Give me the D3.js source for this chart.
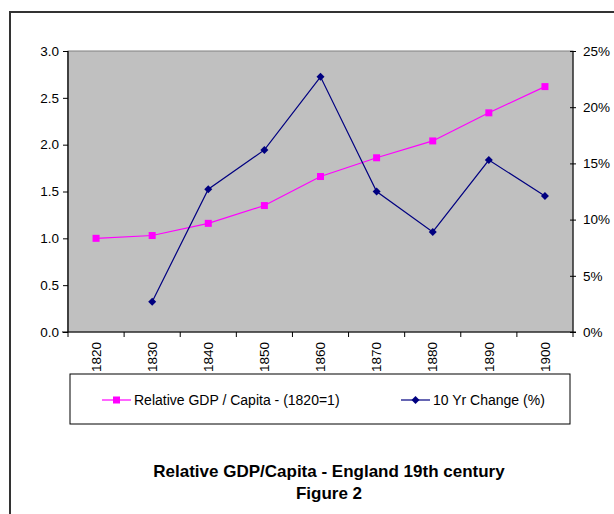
<!DOCTYPE html>
<html><head><meta charset="utf-8">
<script src="https://cdn.jsdelivr.net/npm/d3@7"></script>
<style>
html,body{margin:0;padding:0;background:#fff;}
svg{display:block;font-family:Arial,"Liberation Sans",sans-serif;}
</style></head>
<body><svg id="c" width="614" height="514"></svg>
<script>
const years = ["1820","1830","1840","1850","1860","1870","1880","1890","1900"];
const gdpRel = [1.00, 1.03, 1.16, 1.35, 1.66, 1.86, 2.04, 2.34, 2.62];
const change10 = [null, 2.7, 12.7, 16.2, 22.7, 12.5, 8.9, 15.3, 12.1];
const leftTicks = [0, 0.5, 1.0, 1.5, 2.0, 2.5, 3.0];
const rightTicks = [0, 5, 10, 15, 20, 25];
const seriesNames = ["Relative GDP / Capita - (1820=1)", "10 Yr Change (%)"];
const titleLines = ["Relative GDP/Capita - England 19th century", "Figure 2"];

const svg = d3.select("#c");
const L = 68, R = 573, T = 51, B = 332;

// outer border
svg.append("rect").attr("x",10).attr("y",12).attr("width",620).attr("height",520)
  .attr("fill","#fff").attr("stroke","#333").attr("stroke-width",2);

const x = d3.scaleBand().domain(years).range([L,R]).padding(0);
const yL = d3.scaleLinear().domain([0,3]).range([B,T]);
const yR = d3.scaleLinear().domain([0,25]).range([B,T]);

svg.append("rect").attr("x",L).attr("y",T).attr("width",R-L).attr("height",B-T)
  .attr("fill","#c0c0c0").attr("stroke","#808080").attr("stroke-width",1);

// left axis
const gl = svg.append("g").attr("transform",`translate(${L},0)`)
  .call(d3.axisLeft(yL).tickValues(leftTicks).tickFormat(d3.format(".1f")).tickSize(5).tickPadding(4));
// right axis
const gr = svg.append("g").attr("transform",`translate(${R},0)`)
  .call(d3.axisRight(yR).tickValues(rightTicks).tickFormat(d=>d+"%").tickSize(3).tickPadding(7));
gr.selectAll(".tick line").attr("x1",-3);
// bottom axis with ticks at band boundaries
const gb = svg.append("g").attr("transform",`translate(0,${B})`)
  .call(d3.axisBottom(x).tickSize(0).tickPadding(0));
gb.select(".domain").remove();
gb.selectAll(".tick text").attr("transform","rotate(-90)").attr("text-anchor","end")
  .attr("x",-10).attr("y",0).attr("dy","0.35em");
const bounds = years.map(y=>x(y)).concat([x(years[years.length-1])+x.bandwidth()]);
gb.selectAll("line.bt").data(bounds).enter().append("line").attr("class","bt")
  .attr("x1",d=>d).attr("x2",d=>d).attr("y1",0).attr("y2",5).attr("stroke","#000");
svg.append("line").attr("x1",L-6).attr("x2",R+3).attr("y1",B).attr("y2",B).attr("stroke","#000");

[gl,gr,gb].forEach(g=>{
  g.selectAll(".tick text").attr("font-size",13.5).attr("fill","#000").attr("font-family","Arial,'Liberation Sans',sans-serif");
  g.selectAll(".tick line").attr("stroke","#000");
});
gl.select(".domain").attr("stroke","#404040").attr("stroke-width",2).attr("d",`M0,${T}V${B}`);
gr.select(".domain").attr("stroke","#000").attr("d",`M0,${T}V${B}`);

const cx = d => x(d)+x.bandwidth()/2;
// GDP series
const gdpData = years.map((y,i)=>({y, v:gdpRel[i]}));
svg.append("path").datum(gdpData).attr("fill","none").attr("stroke","#ff00ff").attr("stroke-width",1.2)
  .attr("d", d3.line().x(d=>cx(d.y)).y(d=>yL(d.v)));
svg.selectAll("rect.m1").data(gdpData).enter().append("rect").attr("class","m1")
  .attr("x",d=>cx(d.y)-3.5).attr("y",d=>yL(d.v)-3.5).attr("width",7).attr("height",7).attr("fill","#ff00ff");

// change series
const chData = years.map((y,i)=>({y, v:change10[i]})).filter(d=>d.v!==null);
svg.append("path").datum(chData).attr("fill","none").attr("stroke","#000080").attr("stroke-width",1.2)
  .attr("d", d3.line().x(d=>cx(d.y)).y(d=>yR(d.v)));
const diamond = (px,py,s)=>`M${px},${py-s}L${px+s},${py}L${px},${py+s}L${px-s},${py}Z`;
svg.selectAll("path.m2").data(chData).enter().append("path").attr("class","m2")
  .attr("d",d=>diamond(cx(d.y),yR(d.v),4)).attr("fill","#000080");

// legend
svg.append("rect").attr("x",70).attr("y",374).attr("width",500).attr("height",50)
  .attr("fill","#fff").attr("stroke","#000").attr("stroke-width",1);
const ly = 400;
const lg = svg.append("g");
lg.append("line").attr("x1",102).attr("x2",131).attr("y1",ly).attr("y2",ly).attr("stroke","#ff00ff").attr("stroke-width",1.2);
lg.append("rect").attr("x",113).attr("y",ly-3.5).attr("width",7).attr("height",7).attr("fill","#ff00ff");
lg.append("text").attr("x",134).attr("y",ly).attr("dy","0.35em").attr("font-size",14).text(seriesNames[0]);
lg.append("line").attr("x1",401).attr("x2",430).attr("y1",ly).attr("y2",ly).attr("stroke","#000080").attr("stroke-width",1.2);
lg.append("path").attr("d",diamond(415.5,ly,4)).attr("fill","#000080");
lg.append("text").attr("x",433).attr("y",ly).attr("dy","0.35em").attr("font-size",14).text(seriesNames[1]);

// title
svg.selectAll("text.title").data(titleLines).enter().append("text").attr("class","title")
  .attr("x",329).attr("y",(d,i)=>477+i*22).attr("text-anchor","middle")
  .attr("font-size",17).attr("font-weight","bold").text(d=>d);
</script></body></html>
